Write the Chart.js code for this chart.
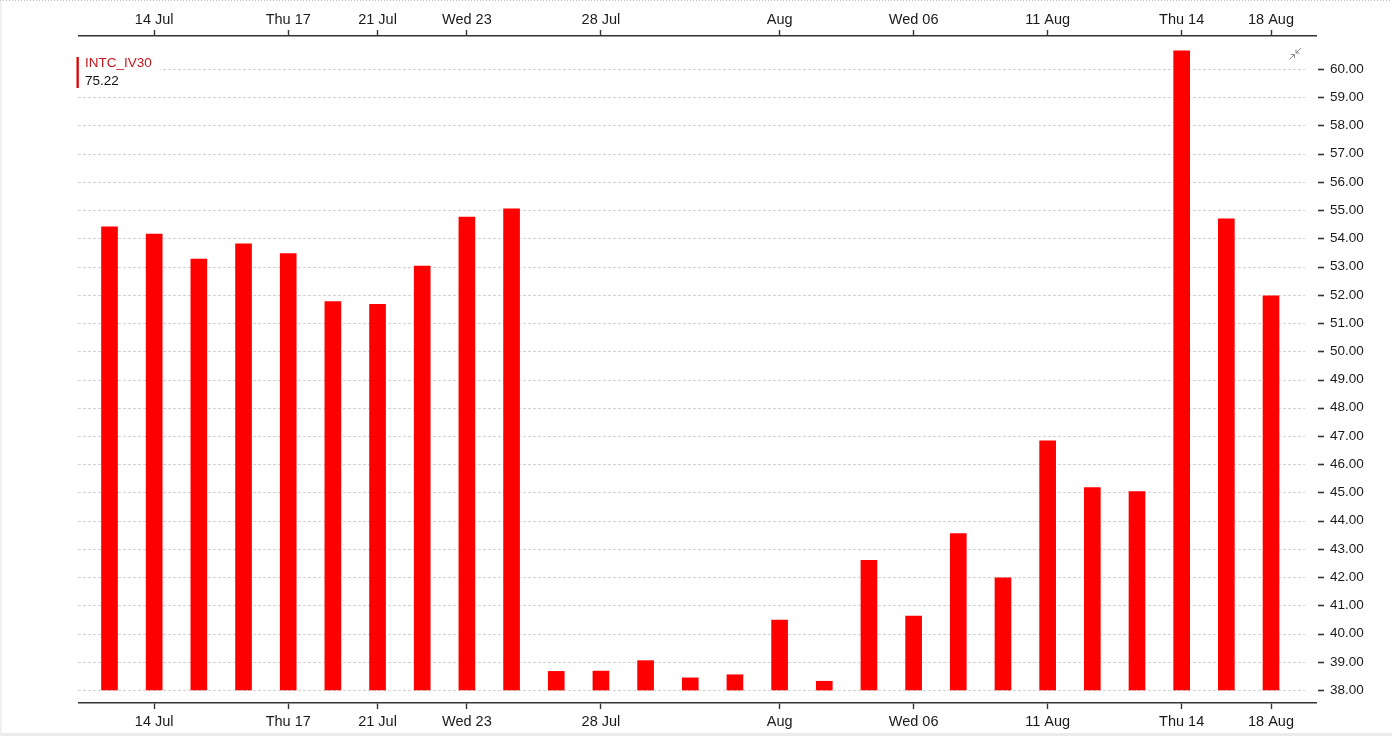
<!DOCTYPE html>
<html>
<head>
<meta charset="utf-8">
<title>INTC_IV30</title>
<script src="https://cdn.jsdelivr.net/npm/chart.js@4.4.1/dist/chart.umd.min.js"></script>
<style>
html,body{margin:0;padding:0;background:#fff;overflow:hidden;}
#wrap{position:relative;width:1392px;height:736px;}
</style>
</head>
<body>
<div id="wrap"><canvas id="ivChart" width="1392" height="736"></canvas></div>
<script>
// trading days on the chart (one bar each)
const dates = [
    "2025-07-11","2025-07-14","2025-07-15","2025-07-16","2025-07-17","2025-07-18",
    "2025-07-21","2025-07-22","2025-07-23","2025-07-24","2025-07-25",
    "2025-07-28","2025-07-29","2025-07-30","2025-07-31","2025-08-01",
    "2025-08-04","2025-08-05","2025-08-06","2025-08-07","2025-08-08",
    "2025-08-11","2025-08-12","2025-08-13","2025-08-14","2025-08-15",
    "2025-08-18"
];
// 30 day implied volatility
const ivValues = [
    54.41, 54.15, 53.27, 53.81, 53.46, 51.76,
    51.66, 53.02, 54.75, 55.05, 38.66,
    38.67, 39.04, 38.43, 38.54, 40.48,
    38.31, 42.59, 40.62, 43.54, 41.97,
    46.83, 45.17, 45.03, 60.64, 54.69,
    51.96
];
const xTickDates = ["2025-07-14","2025-07-17","2025-07-21","2025-07-23","2025-07-28",
                    "2025-08-01","2025-08-06","2025-08-11","2025-08-14","2025-08-18"];
const xTickLabels = ["14 Jul","Thu 17","21 Jul","Wed 23","28 Jul",
                     "Aug","Wed 06","11 Aug","Thu 14","18 Aug"];
const yTickValues = [38,39,40,41,42,43,44,45,46,47,48,49,50,51,52,53,54,55,56,57,58,59,60];
const seriesName = "INTC_IV30";
const lastValue = "75.22";

const xTickPos = xTickDates.map(d => dates.indexOf(d));
const FONT = "'Liberation Sans', Arial, sans-serif";

// bars start at 38 like the original, axis goes a bit past both ends
const X_MIN = -0.683, X_MAX = 27.007;
const Y_MIN = 37.54, Y_MAX = 61.169;

const xAxisCommon = {
    type: "linear",
    min: X_MIN,
    max: X_MAX,
    offset: false,
    afterBuildTicks: (axis) => { axis.ticks = xTickPos.map(v => ({value: v})); },
    grid: {offset: false, drawOnChartArea: false, drawTicks: true, tickLength: 6,
           color: "#333", tickColor: "#333", tickWidth: 1.4},
    border: {display: true, color: "#333", width: 1.6},
    ticks: {
        autoSkip: false, maxRotation: 0, minRotation: 0,
        color: "#1a1a1a",
        font: {family: FONT, size: 14.5},
        callback: (v) => xTickLabels[xTickPos.indexOf(v)]
    }
};

const decor = {
    id: "ivDecor",
    beforeDraw(chart){
        let ctx = chart.ctx;
        ctx.save();
        ctx.fillStyle = "#fff";
        ctx.fillRect(0, 0, chart.width, chart.height);
        // page frame bits
        ctx.fillStyle = "#ebebeb";
        ctx.fillRect(0, chart.height - 3, chart.width, 3);
        ctx.fillStyle = "#f0f0f0";
        ctx.fillRect(0, 0, 2, chart.height);
        ctx.strokeStyle = "#bbb";
        ctx.setLineDash([1, 2]);
        ctx.beginPath(); ctx.moveTo(0, 0.5); ctx.lineTo(chart.width, 0.5); ctx.stroke();
        ctx.restore();
    },
    beforeDatasetsDraw(chart){
        let ctx = chart.ctx, y = chart.scales.y, area = chart.chartArea;
        ctx.save();
        // dashed grid, stops before the right edge
        ctx.strokeStyle = "#d2d2d2";
        ctx.lineWidth = 1;
        ctx.setLineDash([3, 2]);
        yTickValues.forEach(v => {
            let py = Math.round(y.getPixelForValue(v)) + 0.5;
            ctx.beginPath(); ctx.moveTo(area.left - 1, py); ctx.lineTo(area.right - 11, py); ctx.stroke();
        });
        // short tick dashes next to the labels
        ctx.setLineDash([]);
        ctx.strokeStyle = "#333";
        ctx.lineWidth = 1.6;
        yTickValues.forEach(v => {
            let py = Math.round(y.getPixelForValue(v)) + 0.5;
            ctx.beginPath(); ctx.moveTo(area.right + 2, py); ctx.lineTo(area.right + 8, py); ctx.stroke();
        });
        ctx.restore();
    },
    afterDraw(chart){
        let ctx = chart.ctx;
        ctx.save();
        // legend box
        ctx.fillStyle = "#fff";
        ctx.fillRect(76, 55, 84, 36);
        ctx.fillStyle = "#e00000";
        ctx.fillRect(76.5, 57, 2.3, 31);
        ctx.textBaseline = "middle";
        ctx.textAlign = "left";
        ctx.font = "13.5px " + FONT;
        ctx.fillStyle = "#c4161c";
        ctx.fillText(seriesName, 85, 63);
        ctx.fillStyle = "#111";
        ctx.fillText(lastValue, 85, 81.5);
        // collapse icon top right
        ctx.strokeStyle = "#888";
        ctx.lineWidth = 1;
        ctx.beginPath();
        ctx.moveTo(1289.5, 59.5); ctx.lineTo(1294.5, 54.5);
        ctx.moveTo(1291, 54.5); ctx.lineTo(1294.5, 54.5); ctx.lineTo(1294.5, 58);
        ctx.moveTo(1301, 48); ctx.lineTo(1296, 53);
        ctx.moveTo(1296, 49.5); ctx.lineTo(1296, 53); ctx.lineTo(1299.5, 53);
        ctx.stroke();
        ctx.restore();
    }
};

new Chart(document.getElementById("ivChart"), {
    type: "bar",
    data: {
        datasets: [{
            label: seriesName,
            data: ivValues.map((v, i) => ({x: i, y: v})),
            base: 38,
            backgroundColor: "#ff0000",
            borderWidth: 0,
            barThickness: 16,
            xAxisID: "x",
            yAxisID: "y"
        }]
    },
    options: {
        responsive: false,
        animation: false,
        events: [],
        layout: {padding: {left: 79, right: 0, top: 0, bottom: 0}},
        plugins: {legend: {display: false}, tooltip: {enabled: false}},
        scales: {
            x: Object.assign({}, xAxisCommon, {
                position: "bottom",
                afterFit: (s) => { s.height = 33; },
                ticks: Object.assign({}, xAxisCommon.ticks, {padding: 4})
            }),
            xTop: Object.assign({}, xAxisCommon, {
                position: "top",
                afterFit: (s) => { s.height = 36; },
                ticks: Object.assign({}, xAxisCommon.ticks, {padding: 1})
            }),
            y: {
                type: "linear",
                position: "right",
                min: Y_MIN,
                max: Y_MAX,
                afterBuildTicks: (axis) => { axis.ticks = yTickValues.map(v => ({value: v})); },
                afterFit: (s) => { s.width = 76; },
                grid: {display: false, drawTicks: false},
                border: {display: false},
                ticks: {
                    padding: 14,
                    color: "#1a1a1a",
                    font: {family: FONT, size: 13.5},
                    callback: (v) => Number(v).toFixed(2)
                }
            }
        }
    },
    plugins: [decor]
});
</script>
</body>
</html>
